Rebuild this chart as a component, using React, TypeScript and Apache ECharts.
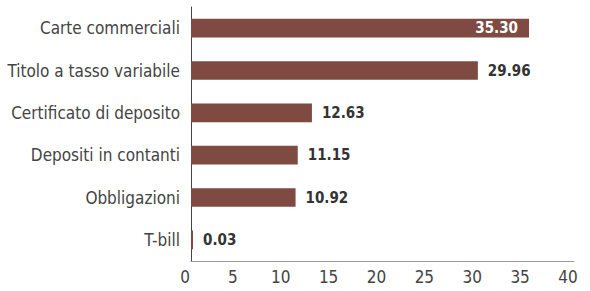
import React, { useEffect, useRef } from "react";
import * as echarts from "echarts";

const categories = [
  "Carte commerciali",
  "Titolo a tasso variabile",
  "Certificato di deposito",
  "Depositi in contanti",
  "Obbligazioni",
  "T-bill",
];
const values = [35.3, 29.96, 12.63, 11.15, 10.92, 0.03];
const xTicks = { min: 0, max: 40, interval: 5 };

const FONT = "'DejaVu Sans Condensed', 'DejaVu Sans', sans-serif";
const BAR = "#7e4a41";

export default function App() {
  const ref = useRef<HTMLDivElement>(null);
  useEffect(() => {
    document.body.style.margin = "0";
    const chart = echarts.init(ref.current!, undefined, { renderer: "svg" });
    chart.setOption({
      animation: false,
      grid: {
        left: 191,
        top: 7,
        width: 383,
        height: 254,
        containLabel: false,
        outerBoundsMode: "none",
      },
      xAxis: {
        type: "value",
        min: xTicks.min,
        max: xTicks.max,
        interval: xTicks.interval,
        axisLine: { show: true, lineStyle: { color: "#9a9a9a", width: 1 } },
        axisTick: { show: false },
        splitLine: { show: false },
        axisLabel: {
          color: "#444",
          fontFamily: FONT,
          fontSize: 17,
          margin: 7,
          padding: [0, 12, 0, 0],
        },
      },
      yAxis: {
        type: "category",
        inverse: true,
        data: categories,
        axisLine: { show: true, lineStyle: { color: "#444", width: 1 } },
        axisTick: { show: false },
        axisLabel: {
          color: "#444",
          fontFamily: FONT,
          fontSize: 17,
          margin: 11,
        },
      },
      series: [
        {
          type: "bar",
          barWidth: "44%",
          barMinHeight: 2,
          itemStyle: { color: BAR },
          data: values.map((v, i) =>
            i === 0
              ? {
                  value: v,
                  label: { position: "insideRight", color: "#fff", distance: 11 },
                }
              : v
          ),
          label: {
            show: true,
            position: "right",
            distance: 10,
            color: "#333",
            fontFamily: FONT,
            fontWeight: "bold",
            fontSize: 15,
            formatter: (p: any) => Number(p.value).toFixed(2),
          },
        },
      ],
    });
    return () => chart.dispose();
  }, []);
  return <div ref={ref} style={{ width: 590, height: 291 }} />;
}
